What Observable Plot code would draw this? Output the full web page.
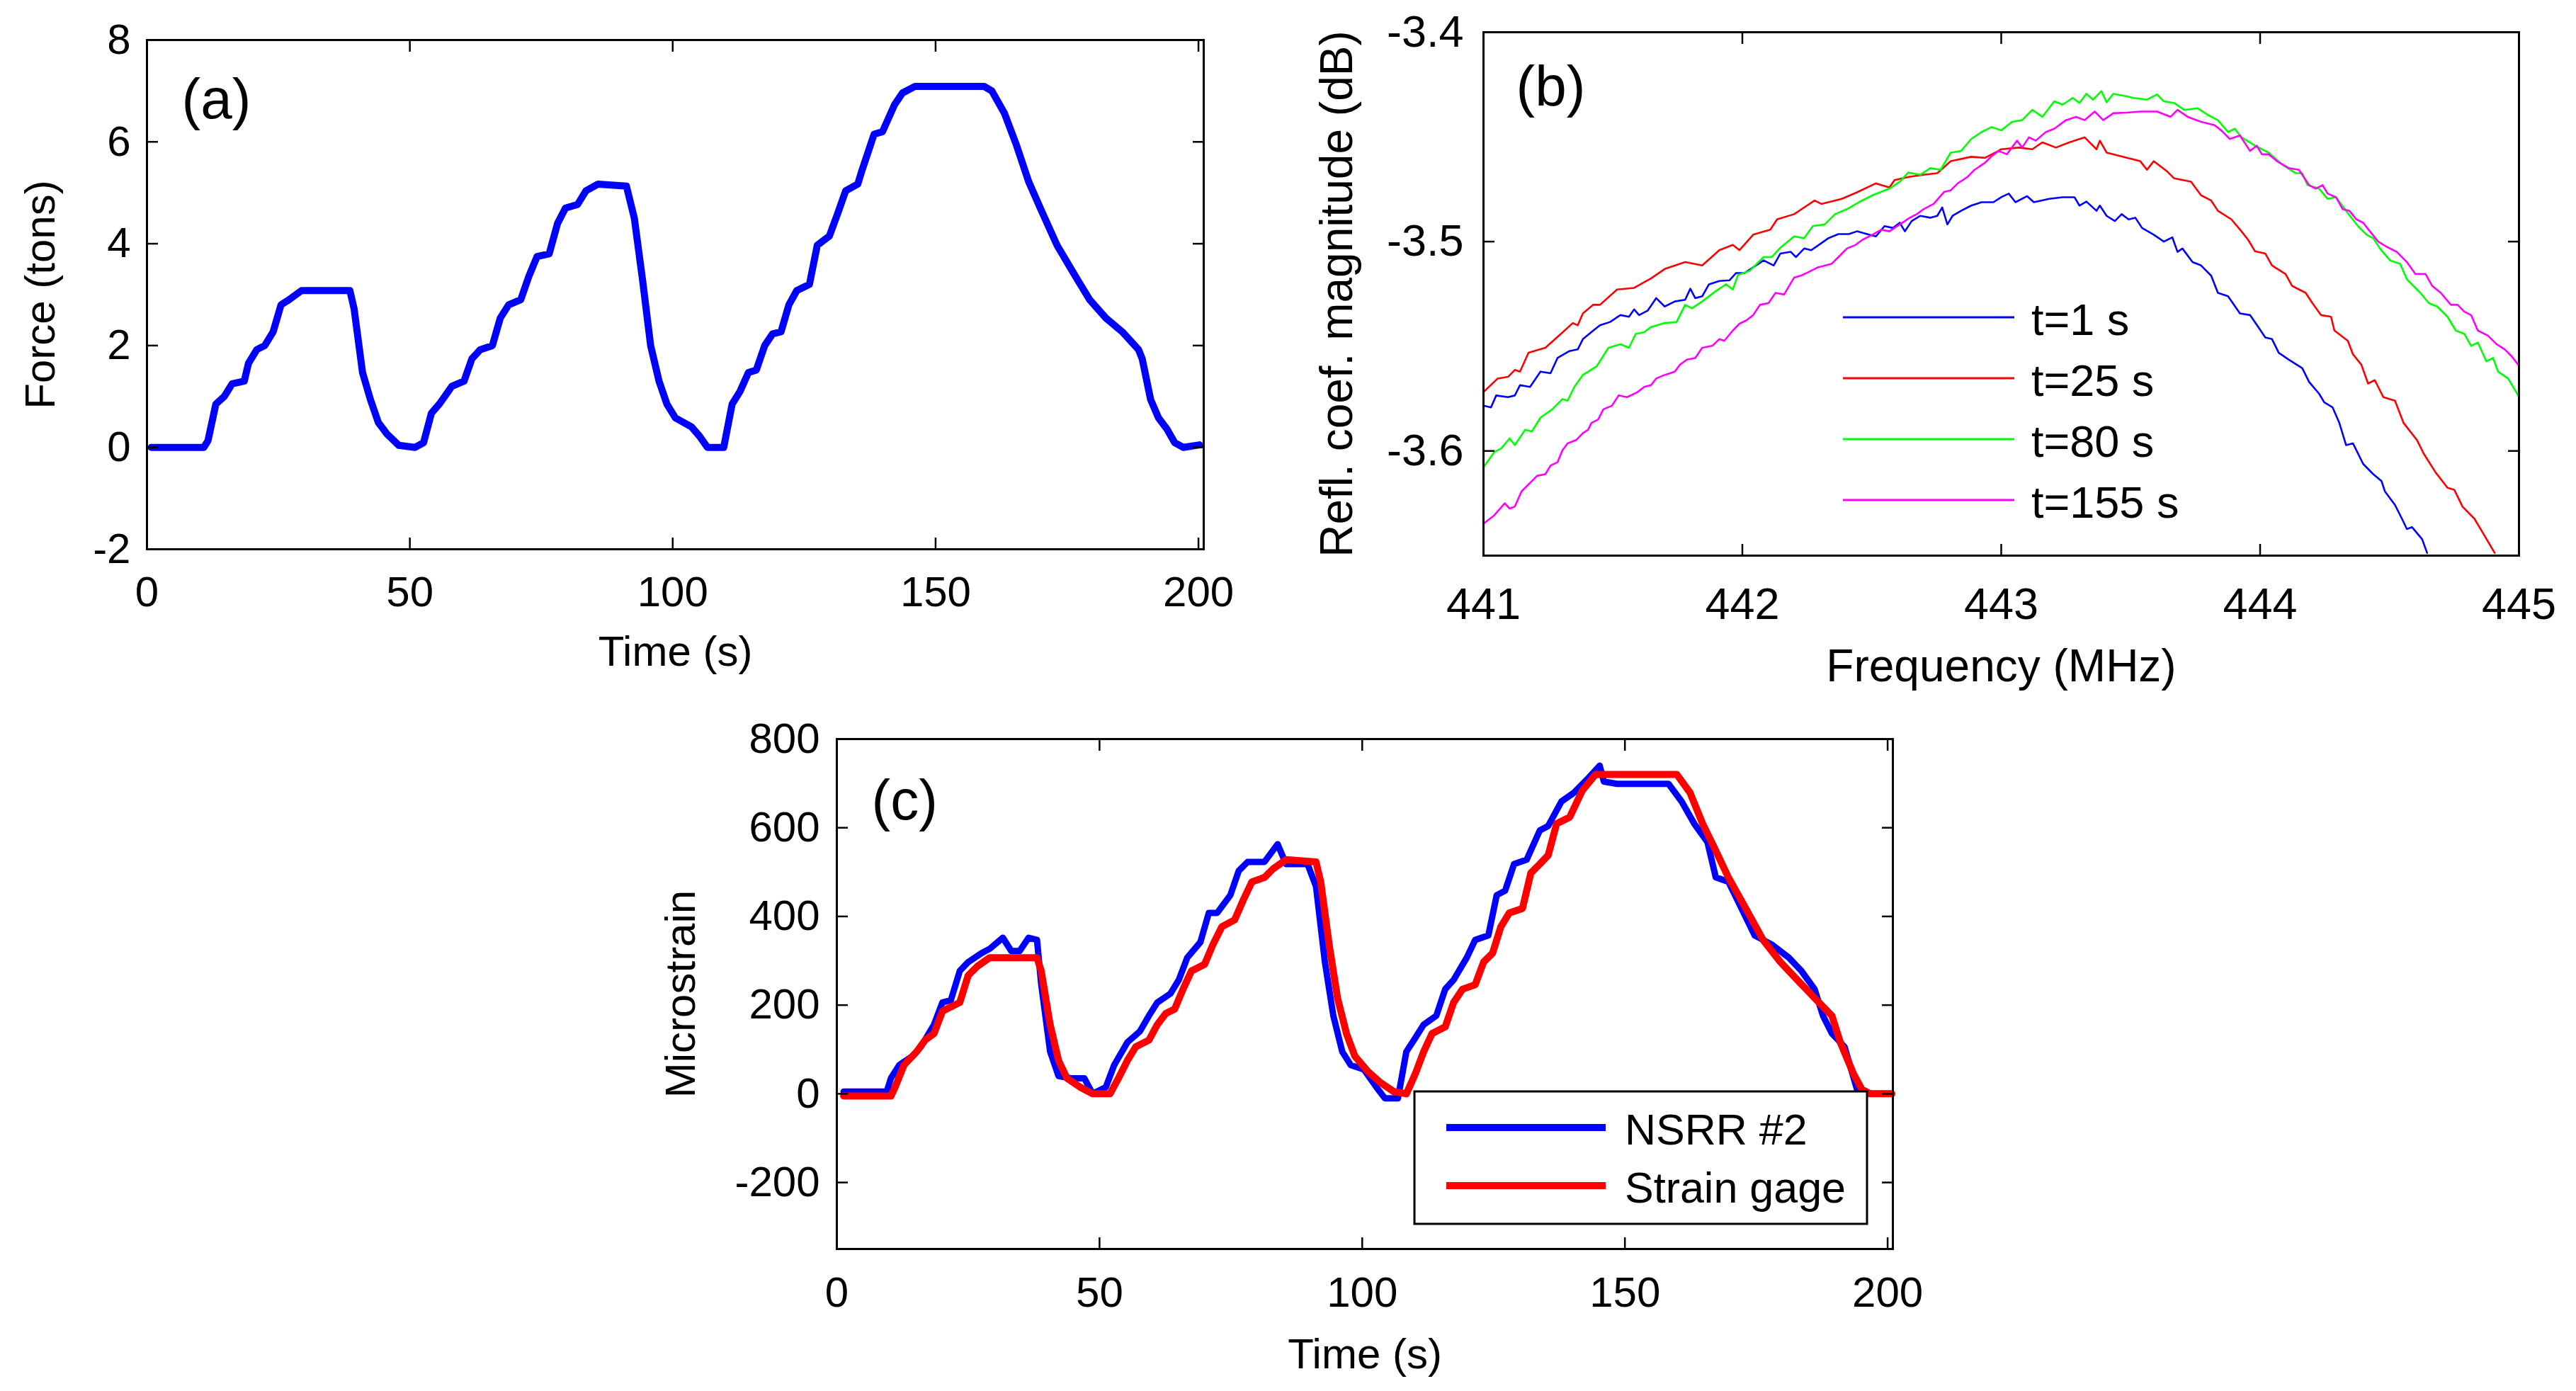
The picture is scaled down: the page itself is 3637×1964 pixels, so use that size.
<!DOCTYPE html>
<html>
<head>
<meta charset="utf-8">
<script src="https://cdn.jsdelivr.net/npm/d3@7"></script>
<script src="https://cdn.jsdelivr.net/npm/@observablehq/plot@0.6"></script>
<style>
body { margin: 0; background: #fff; }
#page { position: relative; width: 3637px; height: 1964px; background: #fff; font-family: "Liberation Sans", Arial, sans-serif; }
.panel { position: absolute; }
#legends { position: absolute; left: 0; top: 0; pointer-events: none; }
</style>
</head>
<body>
<div id="page">
  <div id="pa" class="panel" style="left:0;top:0"></div>
  <div id="pb" class="panel" style="left:1800px;top:0"></div>
  <div id="pc" class="panel" style="left:900px;top:980px"></div>
  <svg id="legends" width="3637" height="1964"></svg>
</div>
<script>
// (a) applied force, [time s, tons]
const force = [
  [0.8, 0], [10.8, 0], [11.6, 0.13], [13.1, 0.85], [14.7, 1.0], [16.2, 1.25], [18.5, 1.3],
  [19.3, 1.65], [20.9, 1.92], [22.4, 2.0], [24.0, 2.27], [25.5, 2.8], [27.0, 2.9], [29.4, 3.08],
  [38.6, 3.08], [39.4, 2.72], [41.0, 1.47], [42.5, 0.94], [44.0, 0.49], [45.6, 0.27], [47.9, 0.04],
  [51.0, 0], [52.6, 0.09], [54.1, 0.67], [55.6, 0.85], [58.0, 1.2], [60.3, 1.3], [61.8, 1.74],
  [63.4, 1.92], [65.7, 2.0], [67.2, 2.54], [68.8, 2.8], [71.1, 2.9], [72.6, 3.35], [74.2, 3.75],
  [76.5, 3.8], [78.1, 4.4], [79.6, 4.7], [81.9, 4.77], [83.5, 5.04], [85.8, 5.17], [91.2, 5.13],
  [92.7, 4.5], [94.3, 3.26], [95.8, 2.0], [97.4, 1.3], [98.9, 0.85], [100.5, 0.58], [103.6, 0.4],
  [105.1, 0.22], [106.6, 0], [109.7, 0], [111.3, 0.85], [112.8, 1.1], [114.4, 1.47], [115.9, 1.52],
  [117.5, 2.0], [119.0, 2.23], [120.6, 2.27], [122.1, 2.8], [123.6, 3.08], [126.0, 3.2], [127.5, 3.97],
  [129.8, 4.15], [131.4, 4.6], [132.9, 5.04], [135.2, 5.17], [136.0, 5.44], [138.3, 6.15], [139.9, 6.2],
  [142.2, 6.73], [143.7, 6.96], [146.1, 7.09], [159.2, 7.09], [160.7, 7.0], [163.1, 6.56], [165.4, 5.93],
  [167.7, 5.22], [170.0, 4.68], [173.1, 3.97], [176.2, 3.43], [179.3, 2.9], [182.4, 2.54], [185.5, 2.27],
  [188.6, 1.92], [189.3, 1.74], [190.9, 0.94], [192.4, 0.58], [194.0, 0.36], [195.5, 0.09], [197.1, 0],
  [200.2, 0.05]
];

// (b) reflection coefficient spectra, [MHz, dB]
const specT1 = [
  [441.000, -3.5784], [441.029, -3.5792], [441.049, -3.5735], [441.095, -3.5743], [441.121, -3.5735],
  [441.141, -3.5686], [441.180, -3.5694], [441.220, -3.5621], [441.259, -3.5629], [441.286, -3.5556],
  [441.332, -3.5523], [441.364, -3.5515], [441.384, -3.5466], [441.424, -3.5425], [441.450, -3.5400],
  [441.489, -3.5384], [441.529, -3.5351], [441.562, -3.5359], [441.582, -3.5324], [441.601, -3.5351],
  [441.634, -3.5330], [441.667, -3.5270], [441.700, -3.5310], [441.739, -3.5286], [441.779, -3.5278],
  [441.799, -3.5225], [441.818, -3.5270], [441.845, -3.5261], [441.871, -3.5204], [441.911, -3.5188],
  [441.950, -3.5185], [441.976, -3.5150], [442.009, -3.5150], [442.042, -3.5123], [442.082, -3.5090],
  [442.121, -3.5114], [442.147, -3.5057], [442.187, -3.5049], [442.207, -3.5074], [442.239, -3.5033],
  [442.266, -3.5041], [442.299, -3.5013], [442.332, -3.4984], [442.371, -3.4964], [442.411, -3.4964],
  [442.443, -3.4951], [442.489, -3.4967], [442.516, -3.4975], [442.549, -3.4926], [442.582, -3.4935],
  [442.608, -3.4910], [442.628, -3.4951], [442.654, -3.4902], [442.687, -3.4877], [442.726, -3.4886],
  [442.753, -3.4877], [442.772, -3.4837], [442.792, -3.4918], [442.812, -3.4877], [442.845, -3.4853],
  [442.884, -3.4828], [442.924, -3.4812], [442.970, -3.4812],
  [443.000, -3.4788], [443.029, -3.4771], [443.055, -3.4812], [443.100, -3.4783], [443.126, -3.4812],
  [443.185, -3.4796], [443.237, -3.4788], [443.283, -3.4788], [443.302, -3.4828], [443.329, -3.4809],
  [443.368, -3.4853], [443.381, -3.4828], [443.407, -3.4877], [443.439, -3.4902], [443.465, -3.4869],
  [443.492, -3.4894], [443.518, -3.4886], [443.544, -3.4935], [443.589, -3.4967], [443.628, -3.5000],
  [443.661, -3.4980], [443.681, -3.5049], [443.700, -3.5033], [443.739, -3.5098], [443.772, -3.5114],
  [443.811, -3.5163], [443.837, -3.5245], [443.876, -3.5261], [443.922, -3.5343], [443.961, -3.5351],
  [443.993, -3.5408], [444.020, -3.5458], [444.046, -3.5466], [444.072, -3.5531], [444.111, -3.5564],
  [444.163, -3.5605], [444.189, -3.5670], [444.228, -3.5727], [444.248, -3.5768], [444.280, -3.5792],
  [444.306, -3.5866], [444.332, -3.5972], [444.359, -3.5964], [444.398, -3.6062], [444.437, -3.6111],
  [444.469, -3.6144], [444.482, -3.6193], [444.521, -3.6258], [444.548, -3.6324], [444.567, -3.6373],
  [444.587, -3.6364], [444.626, -3.6422], [444.645, -3.6487]
];
const specT25 = [
  [441.000, -3.5719], [441.055, -3.5654], [441.095, -3.5646], [441.121, -3.5613], [441.141, -3.5621],
  [441.174, -3.5531], [441.239, -3.5507], [441.292, -3.5449], [441.345, -3.5389], [441.364, -3.5400],
  [441.384, -3.5343], [441.424, -3.5302], [441.450, -3.5302], [441.516, -3.5229], [441.582, -3.5221],
  [441.647, -3.5176], [441.700, -3.5131], [441.779, -3.5098], [441.845, -3.5114], [441.911, -3.5041],
  [441.963, -3.5016], [441.989, -3.5041], [442.042, -3.4967], [442.108, -3.4943], [442.134, -3.4894],
  [442.200, -3.4869], [442.279, -3.4804], [442.305, -3.4820], [442.384, -3.4796], [442.437, -3.4768],
  [442.516, -3.4722], [442.568, -3.4742], [442.588, -3.4706], [442.647, -3.4690], [442.700, -3.4681],
  [442.753, -3.4673], [442.805, -3.4616], [442.884, -3.4595], [442.937, -3.4600], [442.989, -3.4567],
  [443.000, -3.4559], [443.068, -3.4551], [443.120, -3.4559], [443.159, -3.4526], [443.211, -3.4551],
  [443.263, -3.4526], [443.322, -3.4502], [443.368, -3.4559], [443.381, -3.4518], [443.407, -3.4575],
  [443.485, -3.4600], [443.537, -3.4616], [443.563, -3.4657], [443.589, -3.4616], [443.641, -3.4665],
  [443.668, -3.4698], [443.733, -3.4714], [443.772, -3.4779], [443.811, -3.4804], [443.837, -3.4853],
  [443.889, -3.4894], [443.928, -3.4951], [443.954, -3.4992], [443.980, -3.5046], [444.020, -3.5057],
  [444.046, -3.5114], [444.098, -3.5155], [444.124, -3.5212], [444.176, -3.5245], [444.202, -3.5294],
  [444.235, -3.5351], [444.274, -3.5359], [444.287, -3.5425], [444.339, -3.5474], [444.359, -3.5539],
  [444.391, -3.5588], [444.417, -3.5678], [444.443, -3.5662], [444.476, -3.5743], [444.521, -3.5760],
  [444.554, -3.5866], [444.606, -3.5948], [444.632, -3.6013], [444.678, -3.6103], [444.724, -3.6176],
  [444.750, -3.6185], [444.782, -3.6266], [444.828, -3.6324], [444.867, -3.6405], [444.906, -3.6487]
];
const specT80 = [
  [441.000, -3.6078], [441.042, -3.6005], [441.068, -3.5989], [441.101, -3.5940], [441.121, -3.5972],
  [441.161, -3.5899], [441.187, -3.5907], [441.220, -3.5841], [441.266, -3.5801], [441.305, -3.5752],
  [441.325, -3.5760], [441.351, -3.5694], [441.384, -3.5637], [441.437, -3.5596], [441.483, -3.5507],
  [441.529, -3.5490], [441.562, -3.5507], [441.588, -3.5441], [441.621, -3.5433], [441.647, -3.5408],
  [441.700, -3.5389], [441.746, -3.5384], [441.779, -3.5302], [441.805, -3.5319], [441.845, -3.5286],
  [441.897, -3.5237], [441.937, -3.5204], [441.963, -3.5229], [441.983, -3.5160], [442.029, -3.5139],
  [442.082, -3.5074], [442.114, -3.5074], [442.147, -3.5029], [442.200, -3.4975], [442.239, -3.4984],
  [442.272, -3.4926], [442.318, -3.4918], [442.358, -3.4869], [442.404, -3.4845], [442.450, -3.4812],
  [442.503, -3.4779], [442.568, -3.4747], [442.608, -3.4714], [442.641, -3.4670], [442.687, -3.4681],
  [442.726, -3.4649], [442.766, -3.4657], [442.805, -3.4575], [442.845, -3.4567], [442.884, -3.4510],
  [442.924, -3.4477], [442.963, -3.4453],
  [443.000, -3.4469], [443.042, -3.4428], [443.081, -3.4420], [443.120, -3.4371], [443.159, -3.4404],
  [443.205, -3.4330], [443.237, -3.4346], [443.276, -3.4314], [443.302, -3.4338], [443.329, -3.4294],
  [443.355, -3.4322], [443.387, -3.4281], [443.407, -3.4335], [443.433, -3.4294], [443.485, -3.4306],
  [443.511, -3.4314], [443.563, -3.4322], [443.602, -3.4297], [443.628, -3.4330], [443.668, -3.4338],
  [443.707, -3.4371], [443.759, -3.4363], [443.798, -3.4395], [443.837, -3.4420], [443.876, -3.4477],
  [443.902, -3.4461], [443.928, -3.4502], [443.980, -3.4542], [444.033, -3.4575], [444.085, -3.4632],
  [444.137, -3.4673], [444.163, -3.4673], [444.183, -3.4730], [444.228, -3.4747], [444.261, -3.4796],
  [444.293, -3.4788], [444.332, -3.4853], [444.378, -3.4926], [444.411, -3.4967], [444.437, -3.4984],
  [444.463, -3.5033], [444.502, -3.5090], [444.541, -3.5106], [444.567, -3.5180], [444.619, -3.5245],
  [444.652, -3.5294], [444.684, -3.5310], [444.724, -3.5359], [444.756, -3.5425], [444.789, -3.5441],
  [444.815, -3.5498], [444.841, -3.5482], [444.874, -3.5572], [444.900, -3.5556], [444.919, -3.5621],
  [444.958, -3.5654], [444.997, -3.5735]
];
const specT155 = [
  [441.000, -3.6348], [441.042, -3.6307], [441.082, -3.6250], [441.101, -3.6275], [441.121, -3.6266],
  [441.147, -3.6193], [441.174, -3.6160], [441.207, -3.6119], [441.239, -3.6111], [441.259, -3.6070],
  [441.286, -3.6054], [441.305, -3.5997], [441.325, -3.5964], [441.358, -3.5948], [441.384, -3.5915],
  [441.404, -3.5899], [441.417, -3.5866], [441.443, -3.5850], [441.463, -3.5801], [441.496, -3.5784],
  [441.522, -3.5735], [441.555, -3.5743], [441.595, -3.5719], [441.621, -3.5694], [441.647, -3.5686],
  [441.667, -3.5654], [441.700, -3.5637], [441.739, -3.5621], [441.759, -3.5588], [441.786, -3.5564],
  [441.818, -3.5556], [441.845, -3.5507], [441.884, -3.5498], [441.911, -3.5466], [441.930, -3.5474],
  [441.963, -3.5425], [441.989, -3.5392], [442.016, -3.5376], [442.042, -3.5351], [442.068, -3.5302],
  [442.101, -3.5294], [442.128, -3.5245], [442.161, -3.5253], [442.200, -3.5172], [442.226, -3.5163],
  [442.253, -3.5147], [442.292, -3.5123], [442.345, -3.5106], [442.371, -3.5074], [442.404, -3.5033],
  [442.437, -3.5016], [442.463, -3.4992], [442.503, -3.4967], [442.536, -3.4943], [442.568, -3.4951],
  [442.608, -3.4918], [442.647, -3.4886], [442.674, -3.4869], [442.700, -3.4845], [442.739, -3.4820],
  [442.779, -3.4763], [442.805, -3.4755], [442.832, -3.4722], [442.871, -3.4690], [442.897, -3.4657],
  [442.937, -3.4624], [442.963, -3.4592], [442.990, -3.4567],
  [443.022, -3.4583], [443.061, -3.4518], [443.081, -3.4551], [443.107, -3.4502], [443.133, -3.4518],
  [443.172, -3.4477], [443.205, -3.4461], [443.250, -3.4420], [443.289, -3.4404], [443.322, -3.4420],
  [443.361, -3.4379], [443.394, -3.4420], [443.433, -3.4387], [443.485, -3.4384], [443.537, -3.4379],
  [443.602, -3.4379], [443.654, -3.4404], [443.681, -3.4371], [443.720, -3.4404], [443.772, -3.4428],
  [443.824, -3.4444], [443.850, -3.4469], [443.883, -3.4510], [443.922, -3.4493], [443.961, -3.4567],
  [443.987, -3.4542], [444.007, -3.4583], [444.033, -3.4583], [444.065, -3.4616], [444.111, -3.4649],
  [444.150, -3.4657], [444.189, -3.4730], [444.215, -3.4747], [444.241, -3.4730], [444.261, -3.4771],
  [444.293, -3.4788], [444.319, -3.4845], [444.345, -3.4853], [444.372, -3.4894], [444.398, -3.4910],
  [444.424, -3.4951], [444.456, -3.5000], [444.489, -3.5025], [444.528, -3.5049], [444.567, -3.5098],
  [444.600, -3.5155], [444.639, -3.5155], [444.665, -3.5212], [444.698, -3.5245], [444.737, -3.5302],
  [444.763, -3.5302], [444.789, -3.5335], [444.815, -3.5351], [444.841, -3.5425], [444.880, -3.5449],
  [444.913, -3.5490], [444.945, -3.5515], [444.971, -3.5547], [444.997, -3.5588]
];
const spectra = [
  {name: "t=1 s", color: "#0000ff", data: specT1},
  {name: "t=25 s", color: "#ff0000", data: specT25},
  {name: "t=80 s", color: "#00ff00", data: specT80},
  {name: "t=155 s", color: "#ff00ff", data: specT155}
];

// (c) microstrain, [time s, microstrain]
const nsrr = [
  [1.3, 5], [9.5, 5], [10.3, 35], [11.9, 65], [14.4, 85], [16.0, 106], [18.5, 156], [20.1, 206],
  [21.7, 211], [23.4, 277], [25.0, 297], [27.5, 317], [29.1, 327], [31.6, 352], [33.2, 322], [34.8, 322],
  [36.5, 352], [38.1, 347], [38.9, 247], [40.6, 95], [42.2, 40], [44.6, 35], [47.1, 35], [48.7, 0],
  [51.2, 15], [52.8, 65], [55.3, 116], [57.7, 141], [59.4, 176], [61.0, 206], [63.5, 226], [65.1, 257],
  [66.7, 307], [69.2, 342], [70.8, 408], [72.4, 408], [74.9, 448], [76.5, 503], [78.2, 523], [81.4, 523],
  [83.9, 563], [85.5, 518], [89.6, 518], [91.2, 468], [92.9, 297], [94.5, 176], [96.2, 95], [97.8, 65],
  [100.3, 55], [102.7, 15], [104.3, -10], [106.8, -10], [108.4, 95], [110.1, 126], [111.7, 156],
  [114.1, 176], [115.8, 236], [117.4, 257], [119.9, 307], [121.5, 347], [124.0, 357], [125.6, 448],
  [127.2, 458], [128.9, 518], [131.3, 528], [133.8, 594], [135.4, 604], [137.9, 659], [140.3, 679],
  [142.8, 709], [145.2, 740], [146.0, 704], [148.5, 699], [158.3, 699], [160.8, 659], [163.2, 609],
  [165.7, 568], [167.3, 488], [169.7, 478], [172.2, 418], [174.7, 357], [177.9, 337], [181.2, 307],
  [183.6, 277], [186.1, 236], [187.7, 176], [189.4, 136], [191.8, 106], [194.3, 5], [195.9, 0], [200.8, 0]
];
const gage = [
  [1.3, -5], [10.3, -5], [11.1, 15], [12.8, 65], [15.2, 95], [16.8, 121], [18.5, 136], [20.1, 186],
  [21.7, 196], [23.4, 206], [25.0, 267], [26.7, 287], [29.1, 307], [38.1, 307], [38.9, 277], [40.6, 156],
  [42.2, 75], [43.8, 35], [46.3, 15], [48.7, 0], [52.0, 0], [53.6, 35], [55.3, 75], [56.9, 106],
  [59.4, 121], [61.0, 156], [62.6, 181], [64.3, 191], [65.9, 236], [67.5, 277], [70.0, 292], [71.6, 337],
  [73.3, 377], [75.7, 392], [77.4, 438], [79.0, 478], [81.4, 488], [83.1, 508], [85.5, 528], [91.2, 523],
  [92.1, 478], [93.7, 337], [95.3, 216], [97.0, 136], [98.6, 85], [101.1, 50], [103.5, 25], [106.0, 5],
  [108.4, 0], [110.1, 45], [111.7, 95], [113.3, 136], [115.8, 151], [117.4, 206], [119.1, 236],
  [121.5, 246], [123.1, 297], [124.8, 317], [126.4, 377], [128.0, 408], [130.5, 418], [132.1, 498],
  [133.8, 518], [135.4, 538], [137.0, 609], [139.5, 624], [141.9, 684], [144.4, 720], [159.9, 720],
  [162.4, 679], [164.8, 609], [167.3, 548], [169.7, 488], [173.0, 418], [176.3, 347], [179.6, 297],
  [182.8, 257], [186.1, 216], [189.4, 176], [191.0, 116], [193.5, 45], [195.1, 10], [196.7, 0], [200.8, 0]
];

const timeTicks = [0, 50, 100, 150, 200];
const forceTicks = [-2, 0, 2, 4, 6, 8];
const freqTicks = [441, 442, 443, 444, 445];
const reflTicks = [-3.6, -3.5, -3.4];
const strainTicks = [-200, 0, 200, 400, 600, 800];

const FONT = "'Liberation Sans', Arial, Helvetica, sans-serif";

// box with inward ticks on all four sides, labels left and bottom
function boxAxes(xTicks, yTicks, fmtY, fs, padX, padY) {
  const t = {tickSize: 16, tickFormat: () => "", label: null, strokeWidth: 2.5};
  return [
    Plot.axisX(xTicks, {anchor: "bottom", tickSize: 0, tickPadding: padX, fontSize: fs, label: null, tickFormat: d => String(d)}),
    Plot.axisY(yTicks, {anchor: "left", tickSize: 0, tickPadding: padY, fontSize: fs, label: null, tickFormat: fmtY}),
    Plot.axisX(xTicks, {...t, anchor: "bottom", dy: -16}),
    Plot.axisX(xTicks, {...t, anchor: "top", dy: 16}),
    Plot.axisY(yTicks, {...t, anchor: "left", dx: 16}),
    Plot.axisY(yTicks, {...t, anchor: "right", dx: -16}),
    Plot.frame({stroke: "black", strokeWidth: 3})
  ];
}

function labels(tag, tagDx, tagDy, xl, xlDy, yl, ylDx, fs) {
  return [
    Plot.text([tag], {text: d => d, frameAnchor: "top-left", dx: tagDx, dy: tagDy, textAnchor: "start", lineAnchor: "bottom", fontSize: 80}),
    Plot.text([xl], {text: d => d, frameAnchor: "bottom", dy: xlDy, textAnchor: "middle", lineAnchor: "middle", fontSize: fs}),
    Plot.text([yl], {text: d => d, frameAnchor: "left", dx: ylDx, rotate: -90, textAnchor: "middle", lineAnchor: "middle", fontSize: fs})
  ];
}

const style = {fontFamily: FONT, color: "black", background: "transparent", overflow: "visible"};

document.getElementById("pa").appendChild(Plot.plot({
  width: 1760, height: 980,
  marginLeft: 207, marginTop: 56, marginRight: 61, marginBottom: 205,
  style,
  x: {domain: [0, 201]},
  y: {domain: [-2, 8]},
  marks: [
    Plot.line(force, {x: d => d[0], y: d => d[1], stroke: "#0000ff", strokeWidth: 10}),
    ...boxAxes(timeTicks, forceTicks, d => String(d), 60, 38, 23),
    ...labels("(a)", 49, 110, "Time (s)", 145, "Force (tons)", -150, 60)
  ]
}));

document.getElementById("pb").appendChild(Plot.plot({
  width: 1837, height: 980,
  marginLeft: 294, marginTop: 45, marginRight: 81, marginBottom: 196,
  style,
  x: {domain: [441, 445]},
  y: {domain: [-3.65, -3.4]},
  marks: [
    ...spectra.map(s => Plot.line(s.data, {x: d => d[0], y: d => d[1], stroke: s.color, strokeWidth: 2.6, clip: true})),
    ...boxAxes(freqTicks, reflTicks, d => d.toFixed(1), 63, 45, 28),
    ...labels("(b)", 46, 103, "Frequency (MHz)", 157, "Refl. coef. magnitude (dB)", -206, 64)
  ]
}));

document.getElementById("pc").appendChild(Plot.plot({
  width: 1900, height: 984,
  marginLeft: 281, marginTop: 63, marginRight: 128, marginBottom: 201,
  style,
  x: {domain: [0, 201]},
  y: {domain: [-350, 800]},
  marks: [
    Plot.line(nsrr, {x: d => d[0], y: d => d[1], stroke: "#0000ff", strokeWidth: 9}),
    Plot.line(gage, {x: d => d[0], y: d => d[1], stroke: "#ff0000", strokeWidth: 10}),
    ...boxAxes(timeTicks, strainTicks, d => String(d), 60, 39, 24),
    ...labels("(c)", 49, 113, "Time (s)", 149, "Microstrain", -220, 60)
  ]
}));

// legends drawn on top of the panels
const lg = d3.select("#legends");
const gb = lg.append("g").attr("font-family", FONT).attr("font-size", 63);
spectra.forEach((s, i) => {
  const y = 448 + i * 86;
  gb.append("line").attr("x1", 2602).attr("x2", 2844).attr("y1", y).attr("y2", y)
    .attr("stroke", s.color).attr("stroke-width", 3);
  gb.append("text").attr("x", 2868).attr("y", y + 25).text(s.name);
});

const gc = lg.append("g").attr("font-family", FONT).attr("font-size", 61);
gc.append("rect").attr("x", 1997).attr("y", 1541).attr("width", 639).attr("height", 187)
  .attr("fill", "white").attr("stroke", "black").attr("stroke-width", 3);
[["NSRR #2", "#0000ff", 1592], ["Strain gage", "#ff0000", 1674]].forEach(([name, color, y]) => {
  gc.append("line").attr("x1", 2042).attr("x2", 2267).attr("y1", y).attr("y2", y)
    .attr("stroke", color).attr("stroke-width", 10);
  gc.append("text").attr("x", 2294).attr("y", y + 24).text(name);
});
</script>
</body>
</html>
